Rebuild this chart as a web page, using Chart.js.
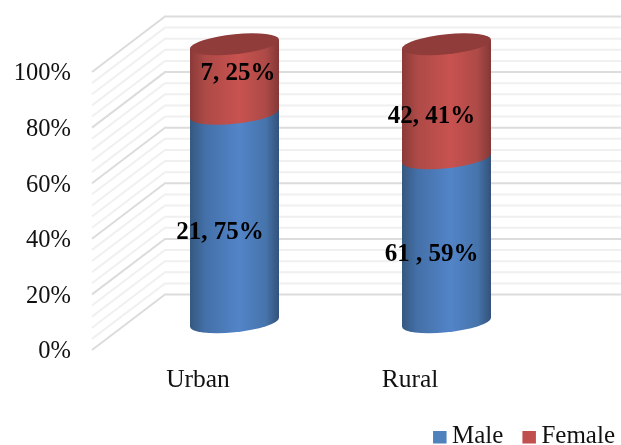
<!DOCTYPE html>
<html>
<head>
<meta charset="utf-8">
<script src="https://cdn.jsdelivr.net/npm/chart.js@4/dist/chart.umd.min.js"></script>
<style>
  html, body { margin: 0; padding: 0; background: #fff; }
  canvas { display: block; }
</style>
</head>
<body>
<canvas id="chart" width="621" height="445"></canvas>
<script>
const categories = ['Urban', 'Rural'];
const malePercent = [75, 59];
const femalePercent = [25, 41];
const maleLabels = ['21, 75%', '61 , 59%'];
const femaleLabels = ['7, 25%', '42, 41%'];
const yTicks = [0, 20, 40, 60, 80, 100];

// depth of the fake 3D box, in pixels
const DEPTH_X = 73;
const DEPTH_Y = -55.5;
const CYL_RX = 44.5;
const CYL_RY = 10;
const CYL_TILT = 4.5;

// hand placed nudges for the value labels, same order as the series
const labelNudge = {
  Male: [[-14.5, 15], [-15, 14]],
  Female: [[3.5, -5.5], [-15, 15]],
};

const blueStops = ['#35587f', '#4470a8', '#5284c8', '#4674ab', '#33527a'];
const redStops = ['#8a3a38', '#ad4a47', '#c8524f', '#ad4a47', '#843836'];

// back wall, side wall and the minor lines every 4%
const wallPlugin = {
  id: 'walls',
  beforeDatasetsDraw(chart) {
    const { ctx, scales: { y }, chartArea: { left } } = chart;
    ctx.save();
    ctx.lineWidth = 2;
    for (let v = 100; v >= 0; v -= 4) {
      const py = y.getPixelForValue(v);
      ctx.strokeStyle = v % 20 === 0 ? '#dcdcdc' : '#f0f0f0';
      ctx.beginPath();
      ctx.moveTo(left, py);
      ctx.lineTo(left + DEPTH_X, py + DEPTH_Y);
      ctx.lineTo(chart.width, py + DEPTH_Y);
      ctx.stroke();
    }
    ctx.restore();
  },
};

function gradientFor(ctx, cx, stops) {
  const g = ctx.createLinearGradient(cx - CYL_RX, 0, cx + CYL_RX, 0);
  [0, 0.17, 0.55, 0.85, 1].forEach((o, i) => g.addColorStop(o, stops[i]));
  return g;
}

// drawn in a sheared space so the ellipses tip up to the right
function cylinderPart(ctx, cx, yBottom, yTop, stops, capColor) {
  const shear = -CYL_TILT / CYL_RX;
  ctx.save();
  ctx.transform(1, shear, 0, 1, cx, 0);
  ctx.beginPath();
  ctx.moveTo(-CYL_RX, yTop);
  ctx.lineTo(-CYL_RX, yBottom);
  ctx.ellipse(0, yBottom, CYL_RX, CYL_RY, 0, Math.PI, 0, true);
  ctx.lineTo(CYL_RX, yTop);
  ctx.closePath();
  ctx.setTransform(1, 0, 0, 1, 0, 0);
  ctx.fillStyle = gradientFor(ctx, cx, stops);
  ctx.fill();
  if (capColor) {
    ctx.transform(1, shear, 0, 1, cx, 0);
    ctx.beginPath();
    ctx.ellipse(0, yTop, CYL_RX, CYL_RY, 0, 0, Math.PI * 2);
    ctx.fillStyle = capColor;
    ctx.fill();
  }
  ctx.restore();
}

const cylinderPlugin = {
  id: 'cylinders',
  // the flat bars stay in the chart for layout, the cylinders replace them on screen
  beforeDatasetDraw() {
    return false;
  },
  afterDatasetsDraw(chart) {
    const { ctx, scales: { x, y } } = chart;
    categories.forEach((cat, i) => {
      const cx = x.getPixelForValue(i) + DEPTH_X / 2;
      const at = (v) => y.getPixelForValue(v) + DEPTH_Y / 2;
      cylinderPart(ctx, cx, at(0), at(malePercent[i]), blueStops);
      cylinderPart(ctx, cx, at(malePercent[i]), at(malePercent[i] + femalePercent[i]), redStops, '#8f3c3a');
    });
    // value labels go on top of both cylinders
    ctx.save();
    ctx.font = 'bold 25px "Liberation Serif"';
    ctx.fillStyle = '#000';
    ctx.textAlign = 'center';
    ctx.textBaseline = 'middle';
    chart.data.datasets.forEach((ds, d) => {
      chart.getDatasetMeta(d).data.forEach((bar, i) => {
        const mid = (bar.y + bar.base) / 2 + DEPTH_Y / 2;
        const nudge = labelNudge[ds.label][i];
        ctx.fillText(ds.valueLabels[i], bar.x + DEPTH_X / 2 + nudge[0], mid + nudge[1]);
      });
    });
    ctx.restore();
  },
};

// the built in legend forces a wide gap after the box, so it is drawn here
const legendPlugin = {
  id: 'cornerLegend',
  afterDraw(chart) {
    const { ctx } = chart;
    ctx.save();
    ctx.font = '25px "Liberation Serif"';
    ctx.textBaseline = 'alphabetic';
    ctx.textAlign = 'left';
    let right = 615;
    [...chart.data.datasets].reverse().forEach((ds) => {
      const w = ctx.measureText(ds.label).width;
      ctx.fillStyle = '#111';
      ctx.fillText(ds.label, right - w, 443);
      ctx.fillStyle = ds.backgroundColor;
      ctx.fillRect(right - w - 19, 431, 13.5, 12.5);
      right -= w + 38;
    });
    ctx.restore();
  },
};

new Chart(document.getElementById('chart'), {
  type: 'bar',
  data: {
    labels: categories,
    datasets: [
      { label: 'Male', data: malePercent, valueLabels: maleLabels, backgroundColor: '#4f81bd' },
      { label: 'Female', data: femalePercent, valueLabels: femaleLabels, backgroundColor: '#c0504d' },
    ],
  },
  options: {
    responsive: false,
    animation: false,
    layout: { padding: { left: 0, top: 72, right: 105, bottom: 0 } },
    scales: {
      x: {
        stacked: true,
        grid: { display: false, drawTicks: false },
        border: { display: false },
        ticks: { color: '#111', font: { family: 'Liberation Serif', size: 25.5 }, padding: 15, maxRotation: 0 },
        afterFit(scale) { scale.height = 95; },
      },
      y: {
        stacked: true,
        min: 0,
        max: 100,
        grid: { display: false, drawTicks: false },
        border: { display: false },
        afterBuildTicks(scale) { scale.ticks = yTicks.map((value) => ({ value })); },
        ticks: {
          color: '#111',
          font: { family: 'Liberation Serif', size: 24.5 },
          padding: 21,
          labelOffset: 2,
          callback: (v) => v + '%',
        },
        afterFit(scale) { scale.width = 92; },
      },
    },
    plugins: {
      tooltip: { enabled: false },
      legend: { display: false },
    },
  },
  plugins: [wallPlugin, cylinderPlugin, legendPlugin],
});
</script>
</body>
</html>
